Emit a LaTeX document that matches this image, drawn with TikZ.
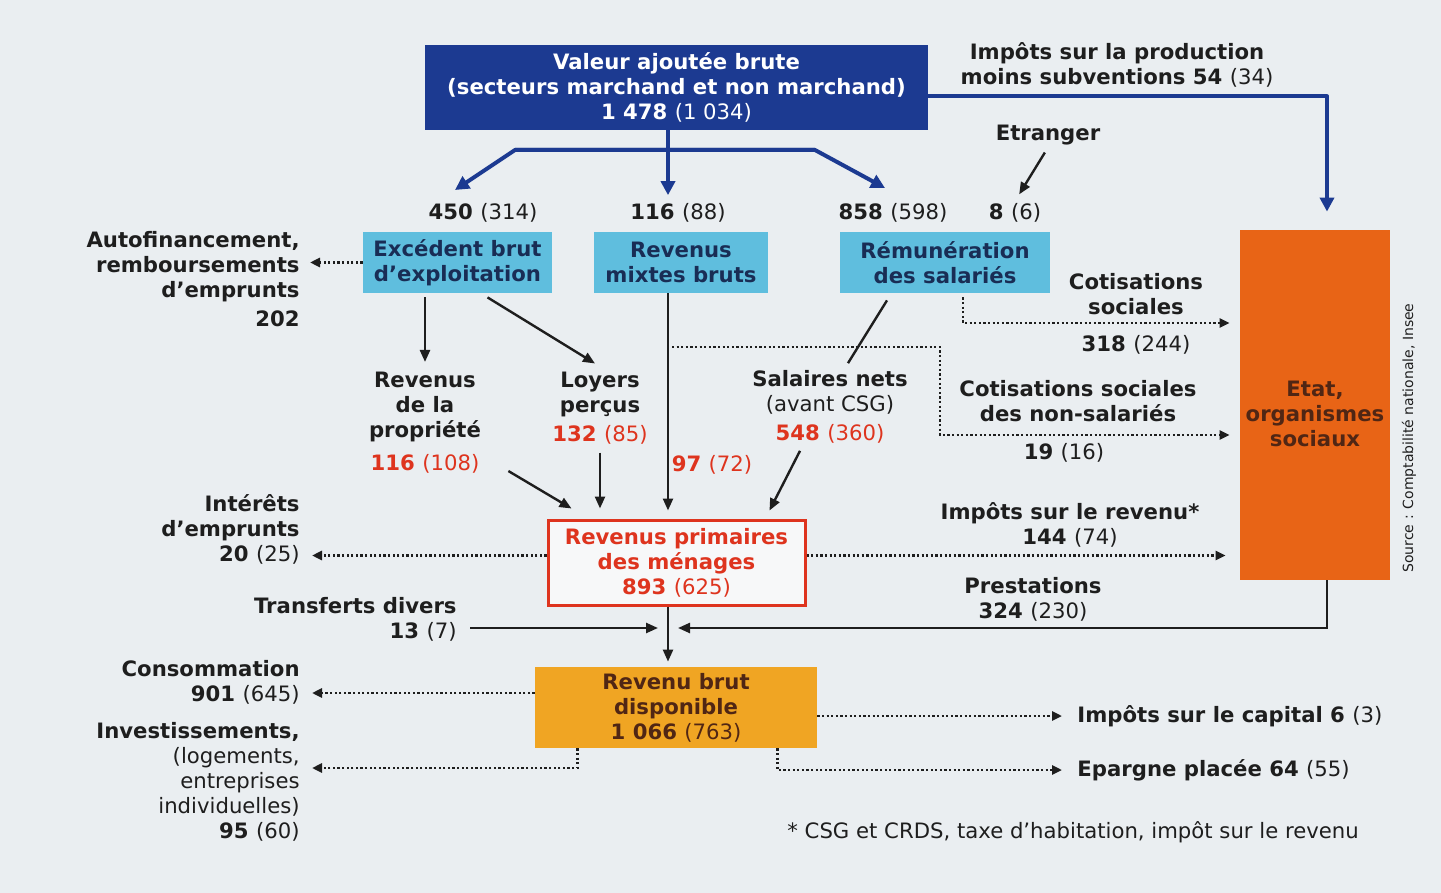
\documentclass[tikz,border=0pt]{standalone}
\usepackage{fontspec}
\setmainfont{DejaVu Sans}
\usetikzlibrary{arrows.meta,calc}
\definecolor{bgcol}{RGB}{234,238,241}
\definecolor{vabblue}{RGB}{28,58,145}
\definecolor{lightblue}{RGB}{95,190,222}
\definecolor{navy}{RGB}{25,45,85}
\definecolor{etatorange}{RGB}{232,100,22}
\definecolor{rbdorange}{RGB}{240,165,35}
\definecolor{brown}{RGB}{80,38,20}
\definecolor{redtxt}{RGB}{222,52,30}
\definecolor{txt}{RGB}{30,30,30}
\newcommand\amount[2]{\textbf{#1} {\mdseries(#2)}}
\newcommand\redamount[2]{\textcolor{redtxt}{\textbf{#1} {\mdseries(#2)}}}
\tikzset{
  lbl/.style={font=\bfseries\fontsize{10.6}{12.5}\selectfont, text=txt, align=center, inner sep=1pt},
  lblr/.style={lbl, align=right, anchor=east},
  lbll/.style={lbl, align=left, anchor=west},
  vabbox/.style={lbl, text=white, fill=vabblue, minimum width=251.5pt, minimum height=42.5pt},
  bluebox/.style={lbl, text=navy, fill=lightblue, minimum height=30.5pt},
  etatbox/.style={lbl, text=brown, fill=etatorange, minimum width=75pt, minimum height=175pt},
  primbox/.style={lbl, text=redtxt, fill=white!60!bgcol, draw=redtxt, line width=1.5pt, minimum width=128.5pt, minimum height=42.5pt},
  rbdbox/.style={lbl, text=brown, fill=rbdorange, minimum width=141pt, minimum height=40.5pt},
  source/.style={font=\fontsize{7}{8}\selectfont, text=txt, rotate=90, inner sep=0pt},
  bluearr/.style={draw=vabblue, line width=2pt, line join=round, -{Triangle[length=7pt,width=7pt]}},
  arr/.style={draw=txt, line width=1.2pt, -{Triangle[length=6pt,width=5pt]}},
  plain/.style={draw=txt, line width=1.2pt},
  dotarr/.style={draw=txt, line width=1.3pt, dash pattern=on 1.1pt off 1.2pt, -{Triangle[length=5pt,width=4.5pt]}}
}
\begin{document}
\begin{tikzpicture}[x=0.5pt,y=-0.5pt]
\fill[bgcol] (0,0) rectangle (1441,893);
\useasboundingbox (0,0) rectangle (1441,893);

\node[vabbox] (vab) at (676.5,87.5) {Valeur ajoutée brute\\(secteurs marchand et non marchand)\\1~478 {\mdseries(1~034)}};
\node[lbl] (prod) at (1117,64.5) {Impôts sur la production\\moins subventions \amount{54}{34}};
\node[lbl] (etranger) at (1048,135) {Etranger};
\node[lbl] (n450) at (483,213) {\amount{450}{314}};
\node[lbl] (n116) at (678,213) {\amount{116}{88}};
\node[lbl] (n858) at (893,213) {\amount{858}{598}};
\node[lbl] (n8) at (1015,213) {\amount{8}{6}};

\node[bluebox, minimum width=94.5pt] (ebe) at (457.5,262.5) {Excédent brut\\d'exploitation};
\node[bluebox, minimum width=87pt] (rmb) at (681,262.5) {Revenus\\mixtes bruts};
\node[bluebox, minimum width=105pt] (rds) at (945,262.5) {Rémunération\\des salariés};
\node[etatbox, text height=44pt, text depth=2.5pt] (etat) at (1315,405) {Etat,\\organismes\\sociaux};
\node[source] (src) at (1409,438) {Source : Comptabilité nationale, Insee};

\node[lblr] (autof) at (302,279) {Autofinancement,\\remboursements\\d'emprunts\\[2pt]202};
\node[lbl] (rprop) at (425,423) {Revenus\\de la\\propriété\\[4pt]\redamount{116}{108}};
\node[lbl] (loyers) at (600,408) {Loyers\\perçus\\[2pt]\redamount{132}{85}};
\node[lbl] (n97) at (712,465) {\redamount{97}{72}};
\node[lbl] (salnets) at (830,407) {Salaires nets\\{\mdseries(avant CSG)}\\[2pt]\redamount{548}{360}};
\node[lbl] (cotsoc) at (1136,294.5) {Cotisations\\sociales};
\node[lbl] (n318) at (1136,345) {\amount{318}{244}};
\node[lbl] (cotns) at (1078,401.5) {Cotisations sociales\\des non-salariés};
\node[lbl] (n19) at (1064,453) {\amount{19}{16}};

\node[primbox] (prim) at (676.5,562.5) {Revenus primaires\\des ménages\\893 {\mdseries(625)}};
\node[lblr] (interets) at (302,529) {Intérêts\\d'emprunts\\\amount{20}{25}};
\node[lbl] (imprev) at (1070,525) {Impôts sur le revenu*\\\amount{144}{74}};
\node[lbl] (prest) at (1033,599.5) {Prestations\\\amount{324}{230}};
\node[lblr] (transf) at (459,619) {Transferts divers\\\amount{13}{7}};

\node[rbdbox] (rbd) at (676,707.5) {Revenu brut\\disponible\\1~066 {\mdseries(763)}};
\node[lblr] (conso) at (302,682.5) {Consommation\\\amount{901}{645}};
\node[lblr] (invest) at (302,782) {Investissements,\\{\mdseries(logements,}\\{\mdseries entreprises}\\{\mdseries individuelles)}\\\amount{95}{60}};
\node[lbll] (impcap) at (1075,716) {Impôts sur le capital \amount{6}{3}};
\node[lbll] (epargne) at (1075,770) {Epargne placée \amount{64}{55}};
\node[lbll] (note) at (785,832) {\mdseries * CSG et CRDS, taxe d'habitation, impôt sur le revenu};

\coordinate (spine) at (668,0);
\coordinate (bl) at (515,150);
\coordinate (br) at (815,150);
\coordinate (t450) at (455,190);
\coordinate (t858) at (885,188);
\coordinate (d1) at (672,347);
\coordinate (d2) at (940,435);
\coordinate (ycs) at (0,323);
\coordinate (ytr) at (0,628);
\coordinate (yco) at (0,693);
\coordinate (yinv) at (0,768);

\draw[bluearr, shorten >=3pt] (vab.south -| spine) -- (n116.north -| spine);
\draw[bluearr] (br) -- (bl) -- (t450);
\draw[bluearr] (bl) -- (br) -- (t858);
\draw[bluearr] ([yshift=-4.5pt]vab.east) -| ($(etat.north)+(12,-18)$);
\draw[arr, shorten <=3pt, shorten >=4pt] (etranger.south) -- (n8.north);

\draw[arr, shorten <=2pt, shorten >=4pt] (ebe.south -| rprop) -- (rprop.north);
\draw[arr] ($(ebe.south)+(30,4)$) -- ($(loyers.north)+(-5,-6)$);
\draw[arr] ($(rprop.south east)+(25,-5)$) -- ($(prim.north west)+(25,-10)$);
\draw[arr, shorten <=3pt, shorten >=5pt] (loyers.south) -- (loyers.south |- prim.north);
\draw[arr, shorten >=4pt] (rmb.south -| spine) -- (prim.north -| spine);
\draw[plain] ($(rds.south)+(-58,7)$) -- ($(salnets.north)+(18,-5)$);
\draw[arr] ($(salnets.south)+(-30,5)$) -- ($(prim.north east)+(-37,-8)$);

\draw[dotarr, shorten >=4pt] (ebe.west) -- (ebe.west -| autof.east);
\draw[dotarr, shorten >=5pt] (d1) -| (d2) -- (d2 -| etat.west);
\draw[dotarr, shorten >=5pt] ($(rds.south)+(18,4)$) |- (etat.west |- ycs);
\draw[dotarr, shorten >=5pt] ([yshift=3.5pt]prim.west) -- ([yshift=3.5pt]prim.west -| interets.east);
\draw[dotarr, shorten >=7pt] ([yshift=3.5pt]prim.east) -- ([yshift=3.5pt]prim.east -| etat.west);

\draw[arr, shorten <=5.5pt, shorten >=5pt] (transf.east |- ytr) -- (spine |- ytr);
\draw[arr, shorten >=5pt] ($(etat.south)+(12,0)$) |- (spine |- ytr);
\draw[arr, shorten >=2.5pt] (prim.south -| spine) -- (rbd.north -| spine);

\draw[dotarr, shorten >=5pt] (rbd.west |- yco) -- (conso.east |- yco);
\draw[dotarr, shorten >=5pt] ($(rbd.south west)+(43,0)$) |- (invest.east |- yinv);
\draw[dotarr, shorten >=6.5pt] (rbd.east |- impcap) -- (impcap.west);
\draw[dotarr, shorten >=6.5pt] ($(rbd.south east)+(-40,0)$) |- (epargne.west);
\end{tikzpicture}
\end{document}
